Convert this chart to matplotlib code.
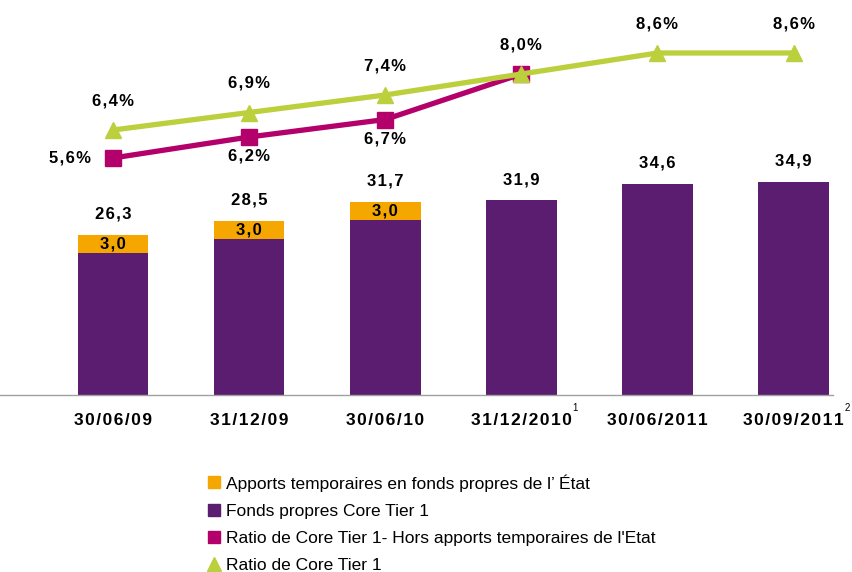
import matplotlib
matplotlib.use("Agg")
import matplotlib.pyplot as plt
from matplotlib.lines import Line2D
import numpy as np

plt.rcParams['font.family'] = ['Liberation Sans', 'DejaVu Sans']

categories = ["30/06/09", "31/12/09", "30/06/10", "31/12/2010", "30/06/2011", "30/09/2011"]
footnotes = ["", "", "", "1", "", "2"]
core_tier1 = [23.3, 25.5, 28.7, 31.9, 34.6, 34.9]
state_contrib = [3.0, 3.0, 3.0, 0.0, 0.0, 0.0]
totals = [26.3, 28.5, 31.7, 31.9, 34.6, 34.9]
ratio_excl_state = [5.6, 6.2, 6.7, 8.0, np.nan, np.nan]
ratio_core = [6.4, 6.9, 7.4, 8.0, 8.6, 8.6]

PURPLE = "#5A1D6F"
ORANGE = "#F5A700"
MAGENTA = "#B4006A"
GREEN = "#BCD03D"

HS = "\u200a"
def sp(s, n=1):
    return (HS * n).join(s)

fig = plt.figure(figsize=(8.52, 5.72), dpi=100)
ax = fig.add_axes([0.0, 1 - 395/572, 833/852, (395 - 10)/572])
x = np.arange(len(categories))
w = 0.52

ax.bar(x, core_tier1, w, color=PURPLE, zorder=2)
ax.bar(x, state_contrib, w, bottom=core_tier1, color=ORANGE, zorder=2)

ax.set_xlim(-0.83, 5.29)
ax.set_ylim(0, 63.1)
for s in ["top", "right", "left"]:
    ax.spines[s].set_visible(False)
ax.spines["bottom"].set_color("#A0A0A0")
ax.spines["bottom"].set_linewidth(1.0)
ax.set_yticks([])
ax.set_xticks(x)
ax.set_xticklabels([sp(c) for c in categories], fontsize=12.5, fontweight="bold")
ax.tick_params(axis="x", length=0, pad=13)

fmt = lambda v: f"{v:.1f}".replace(".", ",")

for xi, t in zip(x, totals):
    ax.annotate(sp(fmt(t)), (xi, t), xytext=(0, 15), textcoords="offset points",
                ha="center", va="center", fontsize=12, fontweight="bold")
for xi, c, s in zip(x, core_tier1, state_contrib):
    if s > 0:
        ax.text(xi, c + s / 2, sp(fmt(s)), ha="center", va="center",
                fontsize=12, fontweight="bold", zorder=3)

ax2 = ax.twinx()
ax2.set_ylim(6.4 - 265/35, 6.4 + 120/35)
ax2.axis("off")

ax2.plot(x, ratio_excl_state, color=MAGENTA, lw=3.8, marker="s", markersize=11, zorder=3)
ax2.plot(x, ratio_core, color=GREEN, lw=3.8, marker="^", markersize=12, zorder=4)

for xi, v in zip(x, ratio_core):
    ax2.annotate(sp(fmt(v) + "%"), (xi, v), xytext=(0, 21), textcoords="offset points",
                 ha="center", va="center", fontsize=12, fontweight="bold")
for i, (xi, v) in enumerate(zip(x, ratio_excl_state)):
    if np.isnan(v) or i == 3:
        continue
    if i == 0:
        ax2.annotate(sp(fmt(v) + "%"), (xi, v), xytext=(-31, 0), textcoords="offset points",
                     ha="center", va="center", fontsize=12, fontweight="bold")
    else:
        ax2.annotate(sp(fmt(v) + "%"), (xi, v), xytext=(0, -14), textcoords="offset points",
                     ha="center", va="center", fontsize=12, fontweight="bold")

# footnote superscripts after tick labels
fig.canvas.draw()
renderer = fig.canvas.get_renderer()
inv = fig.transFigure.inverted()
for lab, fn in zip(ax.get_xticklabels(), footnotes):
    if fn:
        bb = lab.get_window_extent(renderer)
        px, py = inv.transform((bb.x1 + 1, bb.y1 + 10))
        fig.text(px, py, fn, fontsize=7, ha="left", va="top")

handles = [
    Line2D([], [], ls="none", marker="s", markersize=9, color=ORANGE),
    Line2D([], [], ls="none", marker="s", markersize=9, color=PURPLE),
    Line2D([], [], ls="none", marker="s", markersize=9, color=MAGENTA),
    Line2D([], [], ls="none", marker="^", markersize=9.5, color=GREEN),
]
labels = [
    "Apports temporaires en fonds propres de l\u2019 \u00c9tat",
    "Fonds propres Core Tier 1",
    "Ratio de Core Tier 1- Hors apports temporaires de l'Etat",
    "Ratio de Core Tier 1",
]
fig.legend(handles, labels, loc="upper left",
           bbox_to_anchor=(207/852, 1 - 474/572),
           frameon=False, fontsize=12.5, handlelength=0.8, handletextpad=0.3,
           labelspacing=0.69, borderaxespad=0, borderpad=0)

fig.savefig("out.png", dpi=100)
